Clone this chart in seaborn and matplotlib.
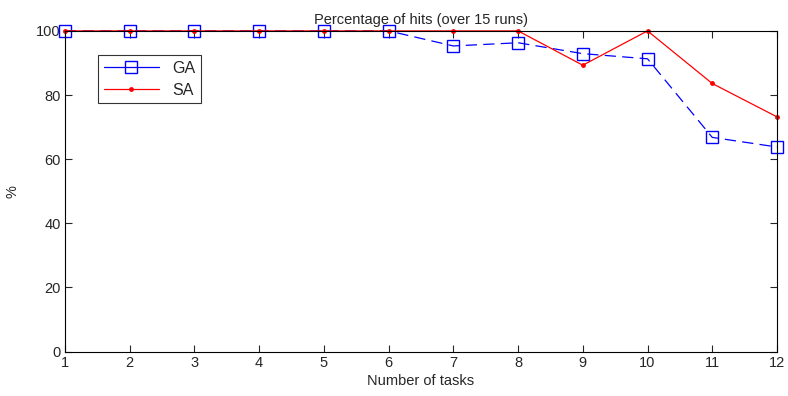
import matplotlib
matplotlib.use("Agg")
import matplotlib.pyplot as plt
import seaborn as sns
import pandas as pd

tasks = [1, 2, 3, 4, 5, 6, 7, 8, 9, 10, 11, 12]
ga = [100, 100, 100, 100, 100, 100, 95.3, 96.3, 92.9, 91.3, 66.8, 63.8]
sa = [100, 100, 100, 100, 100, 100, 100, 100, 89.3, 100, 83.6, 73.2]

sns.set_style("white")
plt.rcParams['font.family'] = ['Liberation Sans', 'DejaVu Sans']

fig = plt.figure(figsize=(7.88, 3.96), dpi=100)
ax = fig.add_axes([0.0825, 0.112, 0.9035, 0.81])

df_ga = pd.DataFrame({"x": tasks, "y": ga})
df_sa = pd.DataFrame({"x": tasks, "y": sa})

sns.lineplot(data=df_ga, x="x", y="y", ax=ax, color="#0000ff", lw=0.9,
             marker="s", markersize=9, markerfacecolor="none",
             markeredgecolor="#0000ff", markeredgewidth=1.0,
             label="GA")
ax.lines[-1].set_linestyle((0, (9, 5)))
sns.lineplot(data=df_sa, x="x", y="y", ax=ax, color="#ff0000", lw=0.9,
             marker="o", markersize=3.5, markeredgewidth=0,
             markerfacecolor="#ff0000", label="SA")
for ln in ax.lines:
    ln.set_clip_on(False)

ax.set_xlim(1, 12)
ax.set_ylim(0, 100)
ax.set_xticks(tasks)
ax.set_yticks([0, 20, 40, 60, 80, 100])
ax.tick_params(direction="in", length=5, width=0.8, labelsize=10.5,
               top=True, right=True, bottom=True, left=True, pad=3)
for s in ax.spines.values():
    s.set_visible(True)
    s.set_color("black")
    s.set_linewidth(0.8)

ax.set_xlabel("Number of tasks", fontsize=10.5, labelpad=3)
ax.set_ylabel("%", fontsize=10.5, labelpad=12)
ax.set_title("Percentage of hits (over 15 runs)", fontsize=10.5, pad=5)

leg = ax.legend(loc="upper left", bbox_to_anchor=(0.035, 0.95), frameon=True,
                fancybox=False, edgecolor="black", fontsize=11.5,
                handlelength=3.5, borderpad=0.35, labelspacing=0.45)
leg.get_frame().set_linewidth(0.8)
for h in leg.get_lines():
    h.set_linestyle("-")

fig.savefig("out.png", dpi=100)
